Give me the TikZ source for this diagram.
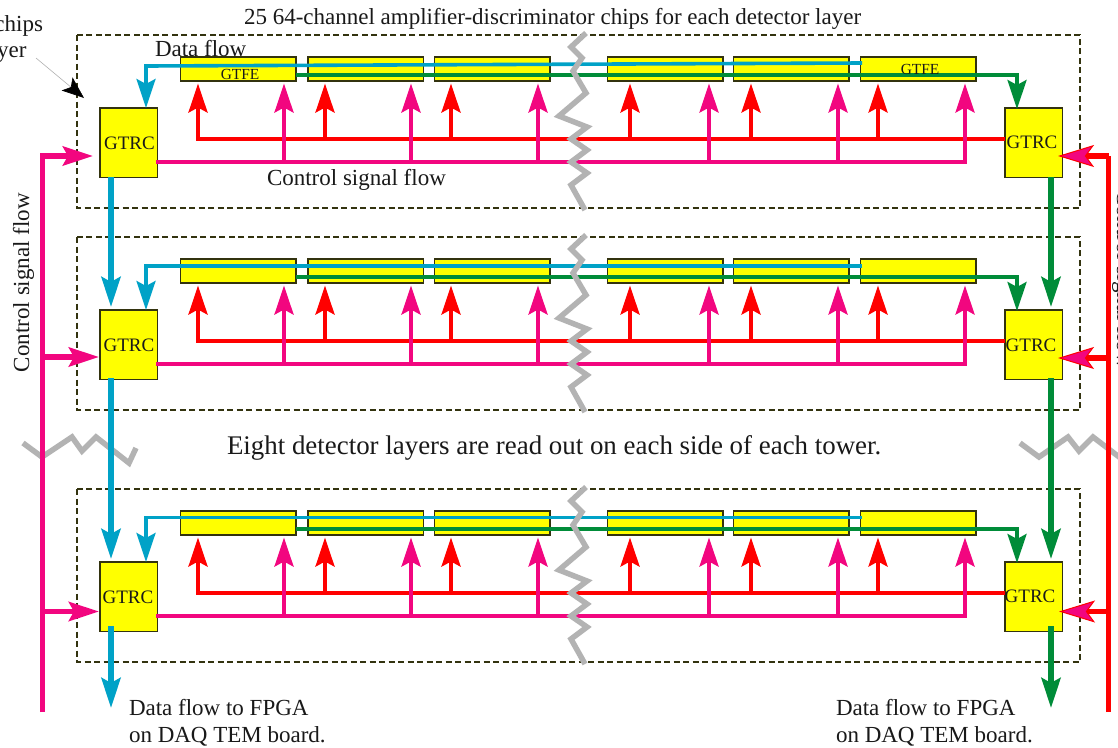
\documentclass[tikz,border=0pt]{standalone}
\usepackage{fontspec}
\setmainfont{Liberation Serif}
\usetikzlibrary{arrows.meta}
\definecolor{cblue}{HTML}{00A2C7}
\definecolor{cgreen}{HTML}{008C39}
\definecolor{cpink}{HTML}{F2067F}
\definecolor{cred}{HTML}{FF0000}
\definecolor{cyel}{HTML}{FFFF00}
\definecolor{cgray}{HTML}{B3B3B3}
\definecolor{cedge}{HTML}{33330F}
\newcommand{\fsz}[1]{\fontsize{#1}{#1}\selectfont}
\tikzset{
  x=1pt,y=-1pt,
  txt/.style={inner sep=0pt,outer sep=0pt,anchor=base west,text=black!90,font=\fsz{23}},
  gtrctxt/.style={inner sep=0pt,outer sep=0pt,text=black!90,font=\fsz{19}},
  gtfetxt/.style={inner sep=0pt,outer sep=0pt,text=black!90,font=\fsz{15.4}},
  chipbox/.style={draw=cedge,fill=cyel,line width=1.3pt,minimum width=115.5pt,minimum height=24pt,anchor=north west,inner sep=0pt,outer sep=0pt},
  gtrcbox/.style={draw=cedge,fill=cyel,line width=1.3pt,minimum width=57.5pt,minimum height=69.5pt,anchor=north west,inner sep=0pt,outer sep=0pt},
  layerbox/.style={draw=cedge,line width=1.3pt,dash pattern=on 6pt off 3.5pt},
  zig/.style={draw=cgray,line width=5.5pt,miter limit=6},
  headm/.style={-{Stealth[length=29pt,width=19pt,inset=5pt]}},
  headt/.style={-{Stealth[length=30pt,width=19pt,inset=5pt]}},
  thinblue/.style={draw=cblue,line width=3.6pt,headm},
  thingreen/.style={draw=cgreen,line width=3.6pt,headm},
  thickblue/.style={draw=cblue,line width=5.5pt,headt},
  thickgreen/.style={draw=cgreen,line width=5.5pt,headt},
  bus/.style={line width=3.8pt},
  stub/.style={line width=3.8pt,headm},
  feedpink/.style={draw=cpink,line width=5.5pt},
  feedred/.style={draw=cred,line width=5.5pt},
  pinkhead/.style={draw=cpink,line width=5.5pt,headt},
  redhead/.style={draw=cred,line width=5.5pt,-{Stealth[length=36pt,width=22pt,inset=8pt,fill=cpink,line width=1pt]}},
  ptr/.style={draw=black!30,line width=0.6pt,-{Stealth[black,length=22pt,width=17pt,inset=5pt]}},
}
\begin{document}
\begin{tikzpicture}
\useasboundingbox (0,0) rectangle (1118,747);
\clip (0,0) rectangle (1118,747);
\fill[white] (0,0) rectangle (1118,747);

% outside breaks (under the thick lines)
\draw[zig] (23,443)--(42,457)--(72,437)--(82,451)--(96,437)--(129,463)--(136,448);
\draw[zig] (1020,443)--(1039,457)--(1068,437)--(1079,451)--(1093,437)--(1127,463)--(1134,448);

\foreach \n/\dy/\by in {1/0/66,2/202/266,3/454/517.5}{
  \draw[layerbox] (77,{35+\dy}) rectangle (1080,{208+\dy});
  % chips
  \foreach \i/\xa in {1/180.5,2/308,3/434.5,4/607.5,5/733.5,6/860.5}{
    \node[chipbox] (c\n-\i) at (\xa,{57+\dy}) {};
  }
  % GTRC boxes
  \node[gtrcbox] (gl\n) at (100,{108+\dy}) {};
  \node[gtrcbox] (gr\n) at (1005,{108+\dy}) {};
  % data lines
  \coordinate (bs\n) at (862,{\n==1 ? 63 : \by});
  \coordinate (bc\n) at (146,\by);
  \coordinate (bt\n) at (146,{108+\dy});
  \draw[thinblue] (bs\n) -- (bc\n) -- (bt\n);
  \coordinate (gc\n) at (1017,{75+\dy});
  \coordinate (gt\n) at (1017,{109+\dy});
  \draw[thingreen] (c\n-1.east |- gc\n) -- (gc\n) -- (gt\n);
  % control buses
  \coordinate (rb\n) at (198,{139+\dy});
  \coordinate (pb\n) at (965,{162+\dy});
  \draw[cred,bus] (gr\n.west |- rb\n) -- (rb\n);
  \draw[cpink,bus] ([xshift=-1.5pt]gl\n.east |- pb\n) -- (pb\n);
  \foreach \x in {198,325,451,630,751,878}{
    \coordinate (rt\n-\x) at (\x,{83.5+\dy});
    \draw[cred,stub] (rt\n-\x |- rb\n) ++(0,1.9) -- (rt\n-\x);
  }
  \foreach \x in {284,411,538,709,838,965}{
    \coordinate (pt\n-\x) at (\x,{83.5+\dy});
    \draw[cpink,stub] (pt\n-\x |- pb\n) ++(0,1.9) -- (pt\n-\x);
  }
  % middle break
  \draw[zig] (586,{33+\dy})--(571,{47+\dy})--(582,{58+\dy})--(573,{71+\dy})--(586,{93+\dy})--(559,{116+\dy})--(587,{127+\dy})--(571,{139+\dy})--(587,{150+\dy})--(571,{162+\dy})--(587,{173+\dy})--(571,{185+\dy})--(585,{210+\dy});
}

% GTRC labels
\node[gtrctxt] (tl1) at (129.5,143) {GTRC};
\node[gtrctxt] (tr1) at (1032,142) {GTRC};
\node[gtrctxt] (tl2) at (129,345) {GTRC};
\node[gtrctxt] (tr2) at (1031,345) {GTRC};
\node[gtrctxt] (tl3) at (128,597) {GTRC};
\node[gtrctxt] (tr3) at (1030,596) {GTRC};
\node[gtfetxt] (fe1) at (240,74) {GTFE};
\node[gtfetxt] (fe6) at (920,69) {GTFE};

% vertical data flow
\coordinate (bl) at (111,177);
\coordinate (br) at (1051,177);
\coordinate (dl2) at (111,307);
\coordinate (dr2) at (1051,307);
\coordinate (el2) at (111,378);
\coordinate (er2) at (1051,378);
\coordinate (dl3) at (111,559);
\coordinate (dr3) at (1051,559);
\coordinate (el3) at (111,626);
\coordinate (er3) at (1051,626);
\coordinate (ol) at (111,708);
\coordinate (or) at (1051,708);
\draw[thickblue] (bl) -- (dl2);
\draw[thickblue] (el2) -- (dl3);
\draw[thickblue] (el3) -- (ol);
\draw[thickgreen] (br) -- (dr2);
\draw[thickgreen] (er2) -- (dr3);
\draw[thickgreen] (er3) -- (or);

% control signal feeds
\coordinate (fl) at (42.5,712);
\coordinate (flt) at (42.5,156);
\coordinate (fla) at (93,156);
\coordinate (flb2) at (42.5,357);
\coordinate (fla2) at (99,357);
\coordinate (flb3) at (42.5,611.5);
\coordinate (fla3) at (99,611.5);
\draw[feedpink] (fl) -- (flt) -- ++(5,0);
\draw[pinkhead] (flt) -- (fla);
\draw[pinkhead] (flb2) -- (fla2);
\draw[pinkhead] (flb3) -- (fla3);
\coordinate (fr) at (1108.5,712);
\coordinate (frt) at (1108.5,156);
\coordinate (fra) at (1058,156);
\coordinate (frb2) at (1108.5,358);
\coordinate (fra2) at (1058,358);
\coordinate (frb3) at (1108.5,611.5);
\coordinate (fra3) at (1059,611.5);
\draw[feedred] (fr) -- (frt);
\draw[redhead] (frt) -- (fra);
\draw[redhead] (frb2) -- (fra2);
\draw[redhead] (frb3) -- (fra3);

% texts
\node[txt] (top) at (244,24) {25 64-channel amplifier-discriminator chips for each detector layer};
\node[txt,anchor=base east] (chips) at (43,31) {chips};
\node[txt,anchor=base east] (layer) at (26.5,57) {layer};
\node[txt] (dataflow) at (155,56) {Data flow};
\node[txt] (ctrl) at (267,185) {Control signal flow};
\node[txt,rotate=90] (ctrlL) at (29,372) {Control signal flow};
\node[txt,rotate=-90] (ctrlR) at (1117,190) {Control signal flow};
\node[txt,font=\fsz{26.9}] (eight) at (227,454) {Eight detector layers are read out on each side of each tower.};
\node[txt] (dl) at (129,715) {Data flow to FPGA};
\node[txt] (dlb) at (129,742) {on DAQ TEM board.};
\node[txt] (drt) at (836,715) {Data flow to FPGA};
\node[txt] (drb) at (836,742) {on DAQ TEM board.};

\coordinate (ptrs) at (36,58);
\coordinate (ptre) at (84,98);
\draw[ptr] (ptrs) -- (ptre);
\end{tikzpicture}
\end{document}
